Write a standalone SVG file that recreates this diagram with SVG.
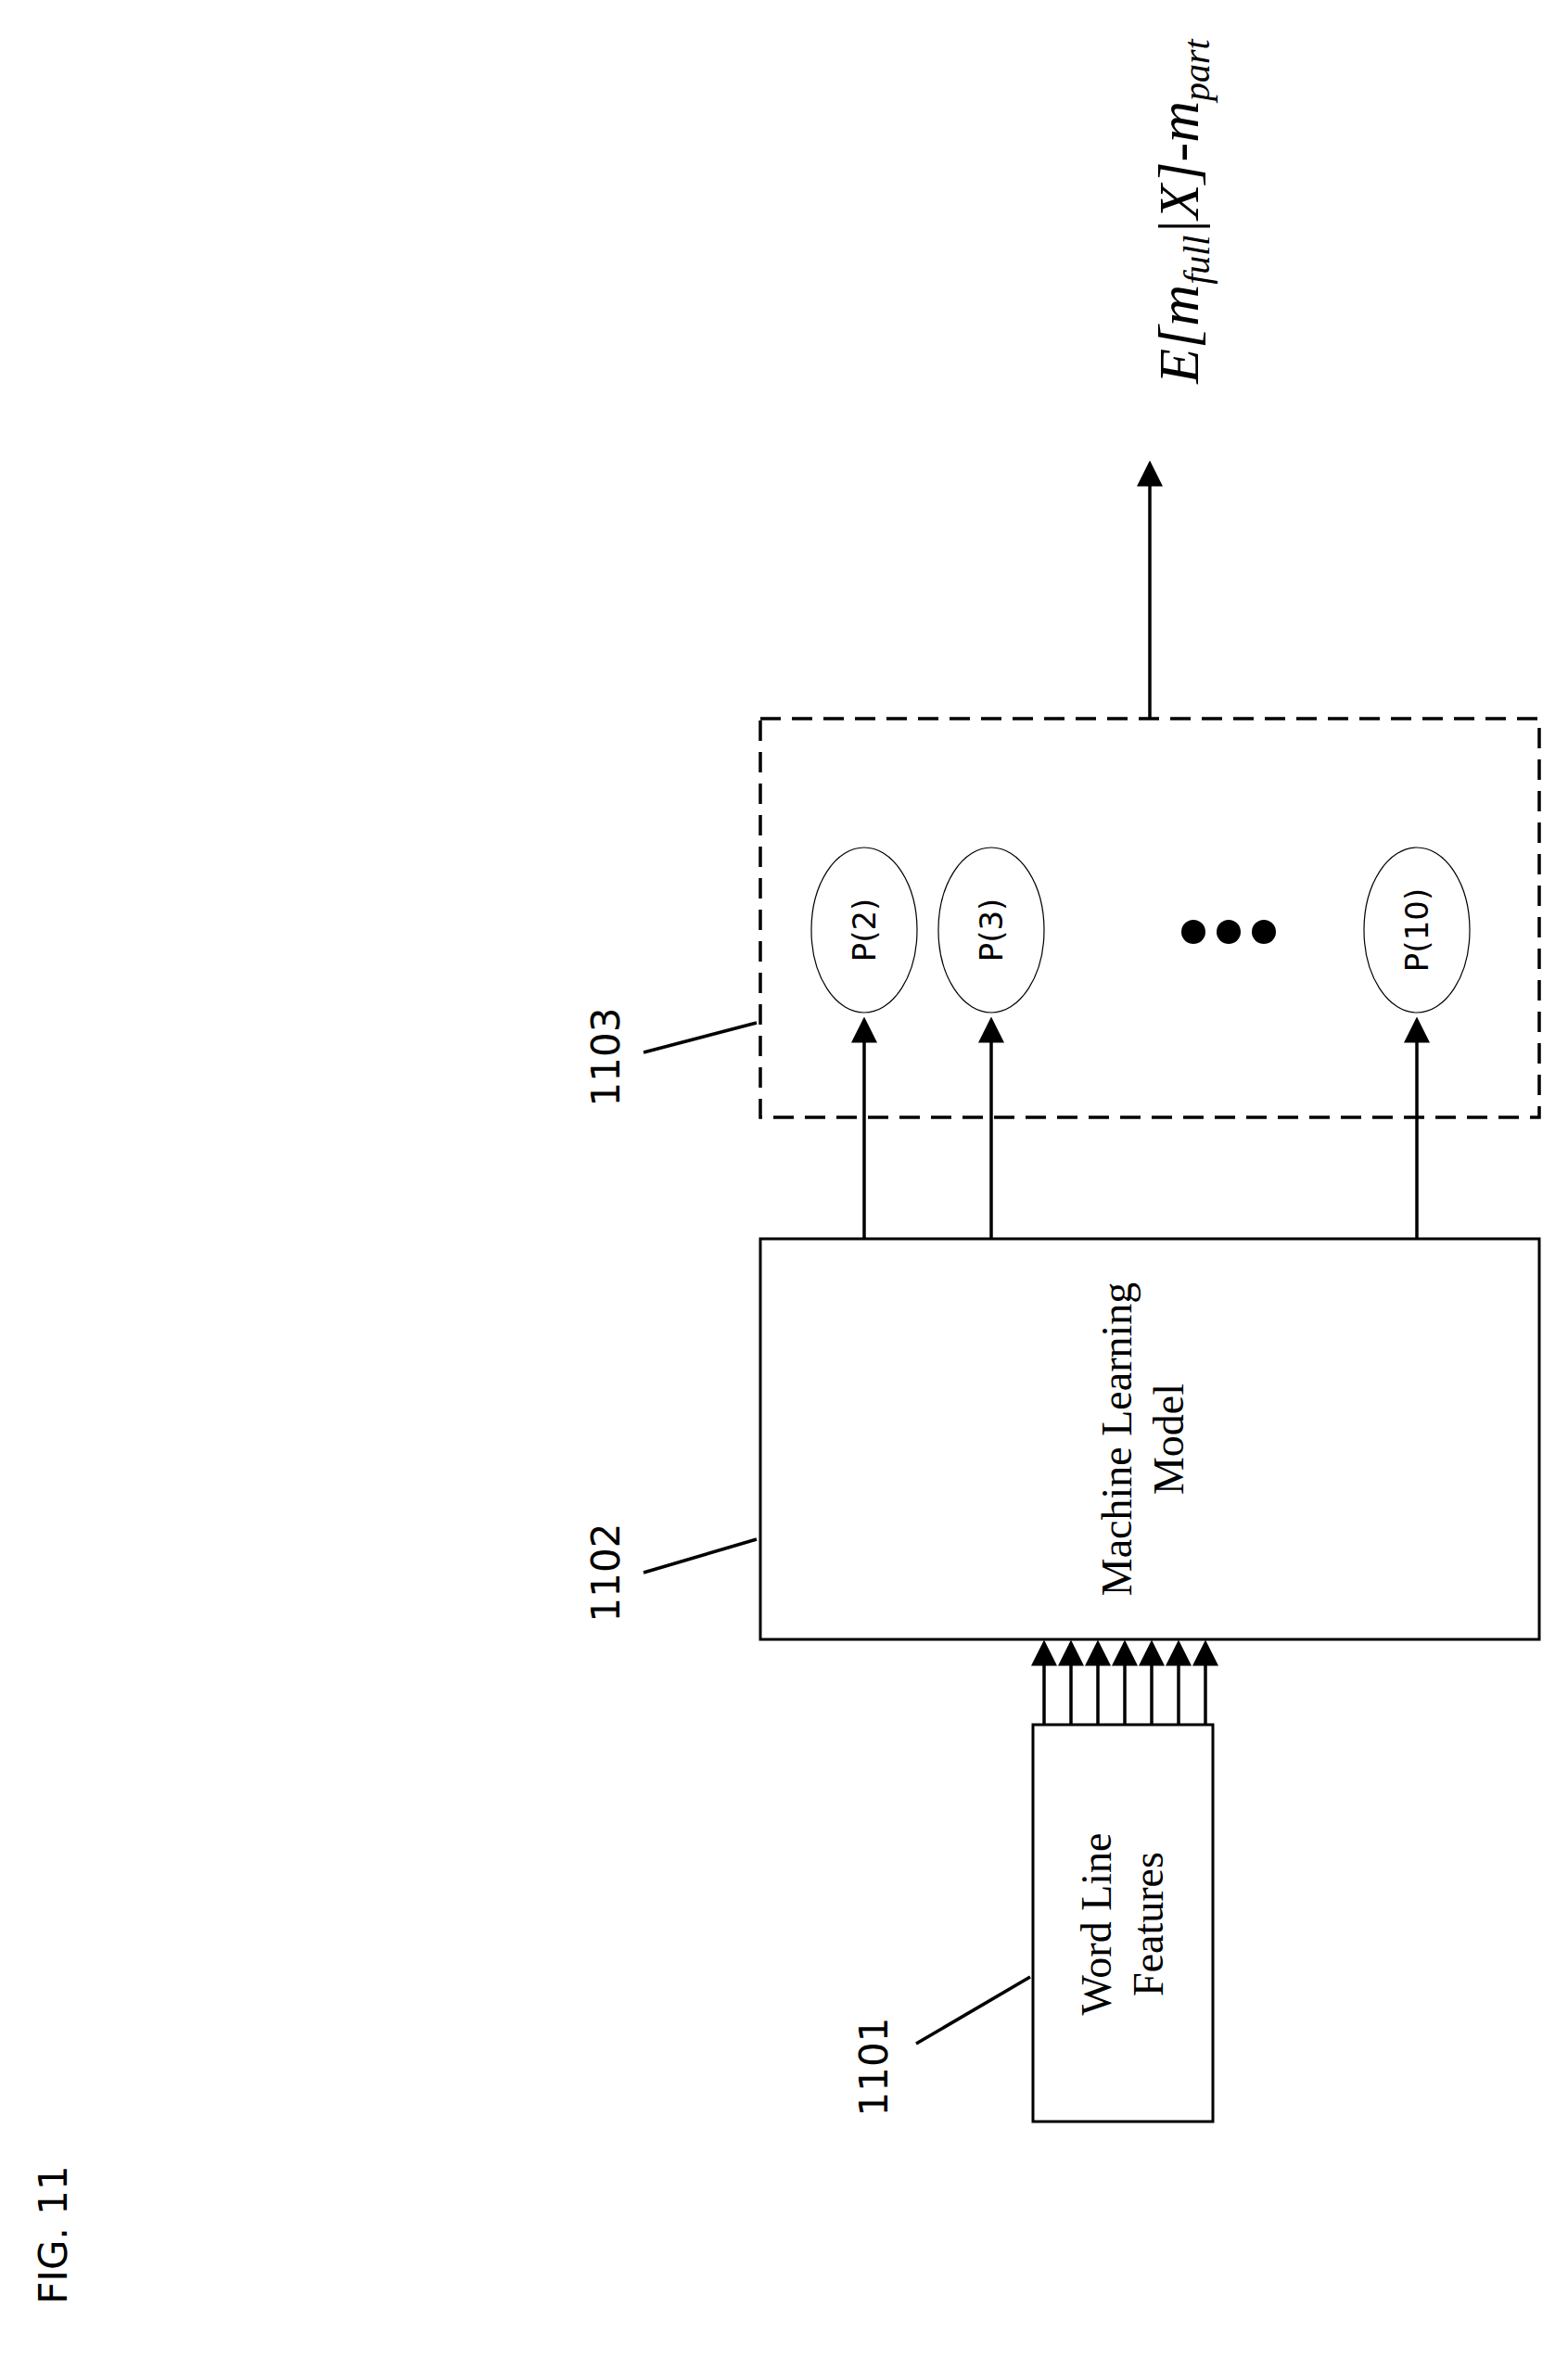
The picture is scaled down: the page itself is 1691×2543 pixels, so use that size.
<svg xmlns="http://www.w3.org/2000/svg" width="1691" height="2543" viewBox="0 0 1691 2543">
<style>
.b{fill:#fff;stroke:#000;stroke-width:3}
.l{stroke:#000;stroke-width:3.5;fill:none}
.s{font-family:"Liberation Serif",serif;font-size:46px}
.n{font-family:"DejaVu Sans",sans-serif;font-size:42px}
.e{fill:#fff;stroke:#000;stroke-width:1.2}
.p{font-family:"DejaVu Sans",sans-serif;font-size:34px}
</style>
<defs><marker id="a" markerWidth="8" markerHeight="8" refX="7" refY="4" orient="auto" markerUnits="strokeWidth"><path d="M0,0L8,4L0,8z"/></marker></defs>
<rect width="1691" height="2543" fill="#fff"/>
<g id="connectors">
<line class="l" x1="1240" y1="775" x2="1240" y2="500" marker-end="url(#a)"/>
<line class="l" x1="932" y1="1336" x2="932" y2="1100" marker-end="url(#a)"/>
<line class="l" x1="1069" y1="1336" x2="1069" y2="1100" marker-end="url(#a)"/>
<line class="l" x1="1528" y1="1336" x2="1528" y2="1100" marker-end="url(#a)"/>
<g marker-end="url(#a)">
<line class="l" x1="1126" y1="1860" x2="1126" y2="1772"/>
<line class="l" x1="1155" y1="1860" x2="1155" y2="1772"/>
<line class="l" x1="1184" y1="1860" x2="1184" y2="1772"/>
<line class="l" x1="1213" y1="1860" x2="1213" y2="1772"/>
<line class="l" x1="1242" y1="1860" x2="1242" y2="1772"/>
<line class="l" x1="1271" y1="1860" x2="1271" y2="1772"/>
<line class="l" x1="1300" y1="1860" x2="1300" y2="1772"/>
</g>
<line class="l" stroke-width="2.5" x1="988" y1="2204" x2="1111" y2="2132"/>
<line class="l" stroke-width="2.5" x1="694" y1="1696" x2="816" y2="1660"/>
<line class="l" stroke-width="2.5" x1="694" y1="1135" x2="816" y2="1103"/>
</g>
<g id="n1103">
<rect x="820" y="775" width="840" height="430" fill="none" stroke="#000" stroke-width="3.5" stroke-dasharray="22,12"/>
<text class="n" transform="translate(668,1140) rotate(-90)" text-anchor="middle">1103</text>
</g>
<g id="p2"><ellipse class="e" cx="932" cy="1003" rx="57" ry="89"/><text class="p" transform="translate(944,1003) rotate(-90)" text-anchor="middle">P(2)</text></g>
<g id="p3"><ellipse class="e" cx="1069" cy="1003" rx="57" ry="89"/><text class="p" transform="translate(1081,1003) rotate(-90)" text-anchor="middle">P(3)</text></g>
<g id="p10"><ellipse class="e" cx="1528" cy="1003" rx="57" ry="89"/><text class="p" transform="translate(1540,1003) rotate(-90)" text-anchor="middle">P(10)</text></g>
<g id="dots"><circle cx="1287" cy="1005" r="13"/><circle cx="1325" cy="1005" r="13"/><circle cx="1363" cy="1005" r="13"/></g>
<g id="out"><text transform="translate(1292,228) rotate(-90)" text-anchor="middle" font-family="Liberation Serif,serif" font-style="italic" font-size="62">E[m<tspan font-size="40" dy="12">full</tspan><tspan dy="-12">|X]-m</tspan><tspan font-size="40" dy="12">part</tspan></text></g>
<g id="n1102">
<rect class="b" x="820" y="1336" width="840" height="432"/>
<text class="s" transform="translate(1220,1552) rotate(-90)" text-anchor="middle">Machine Learning</text>
<text class="s" transform="translate(1276,1552) rotate(-90)" text-anchor="middle">Model</text>
<text class="n" transform="translate(668,1696) rotate(-90)" text-anchor="middle">1102</text>
</g>
<g id="n1101">
<rect class="b" x="1114" y="1860" width="194" height="428"/>
<text class="s" transform="translate(1198,2075) rotate(-90)" text-anchor="middle">Word Line</text>
<text class="s" transform="translate(1254,2075) rotate(-90)" text-anchor="middle">Features</text>
<text class="n" transform="translate(957,2229) rotate(-90)" text-anchor="middle">1101</text>
</g>
<text class="n" font-size="66" transform="translate(72,2410) rotate(-90)" text-anchor="middle">FIG. 11</text>
</svg>
